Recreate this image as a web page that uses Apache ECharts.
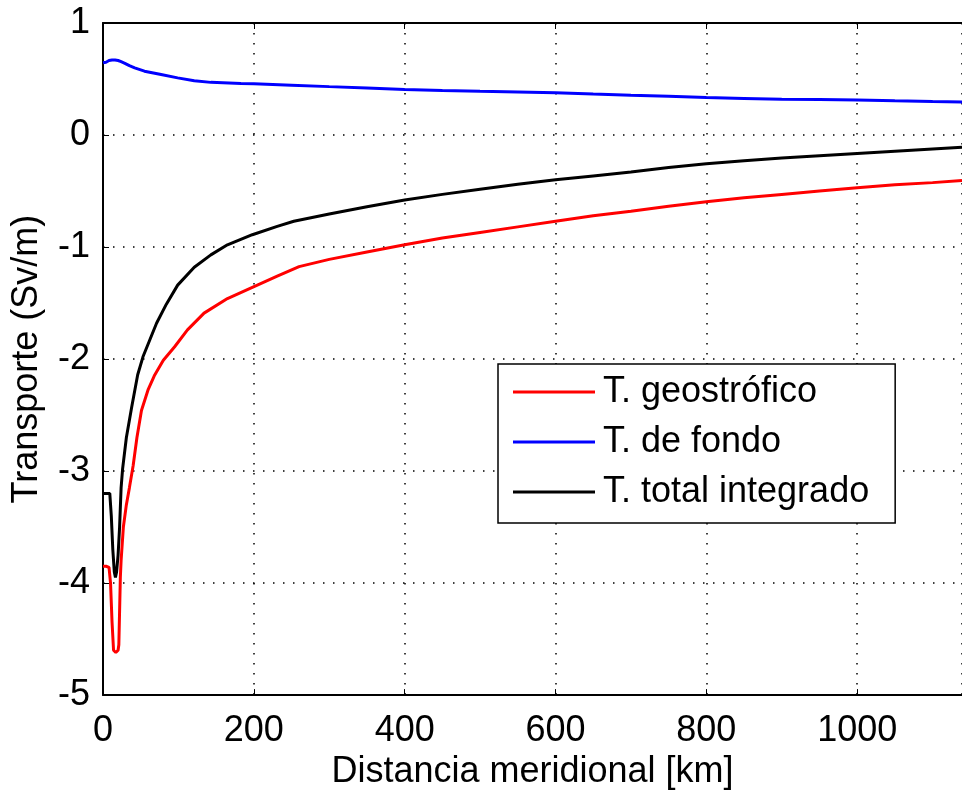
<!DOCTYPE html>
<html>
<head>
<meta charset="utf-8">
<script src="https://cdn.jsdelivr.net/npm/echarts@6/dist/echarts.min.js"></script>
<style>
html,body{margin:0;padding:0;background:#fff;}
#chart{width:962px;height:795px;}
</style>
</head>
<body>
<div id="chart"></div>
<script>
// ---- data ----
const seriesNames = ['T. geostrófico', 'T. de fondo', 'T. total integrado'];
const xTicks = [0, 200, 400, 600, 800, 1000];
const yTicks = [-5, -4, -3, -2, -1, 0, 1];

const distGeo = [0, 4, 8, 10, 12, 14, 17, 20, 21, 23, 24, 27, 31, 35, 40, 45, 51, 60, 68, 80, 95, 112, 134, 165, 198, 231, 260, 300, 350, 400, 450, 500, 550, 600, 650, 700, 750, 800, 850, 900, 950, 1000, 1050, 1100, 1139];
const geo = [-3.85, -3.85, -3.86, -4.0, -4.35, -4.6, -4.62, -4.6, -4.55, -3.95, -3.8, -3.5, -3.3, -3.15, -2.95, -2.7, -2.46, -2.27, -2.15, -2.01, -1.89, -1.74, -1.59, -1.46, -1.36, -1.26, -1.175, -1.11, -1.045, -0.98, -0.92, -0.87, -0.82, -0.77, -0.72, -0.68, -0.635, -0.595, -0.56, -0.53, -0.5, -0.47, -0.445, -0.425, -0.405];

const distFondo = [0, 4, 8, 12, 16, 20, 24, 29, 35, 42, 55, 77, 99, 121, 143, 183, 200, 250, 300, 350, 400, 450, 500, 550, 600, 650, 700, 750, 800, 850, 900, 950, 1000, 1050, 1100, 1139];
const fondo = [0.645, 0.65, 0.665, 0.67, 0.67, 0.665, 0.655, 0.64, 0.62, 0.6, 0.57, 0.54, 0.51, 0.485, 0.47, 0.46, 0.457, 0.445, 0.432, 0.42, 0.407, 0.398, 0.39, 0.384, 0.378, 0.366, 0.355, 0.345, 0.334, 0.327, 0.32, 0.316, 0.312, 0.305, 0.299, 0.295];

const distTotal = [0, 4, 9, 11, 13, 15, 16.5, 18, 20, 22, 24, 26, 31, 38, 46, 53, 62, 71, 84, 99, 121, 143, 165, 198, 231, 253, 300, 350, 400, 450, 500, 550, 600, 650, 700, 750, 800, 850, 900, 950, 1000, 1050, 1100, 1139];
const total = [-3.2, -3.2, -3.2, -3.4, -3.7, -3.9, -3.95, -3.9, -3.75, -3.5, -3.15, -2.98, -2.7, -2.43, -2.14, -1.98, -1.83, -1.68, -1.51, -1.34, -1.18, -1.07, -0.98, -0.89, -0.815, -0.77, -0.705, -0.64, -0.58, -0.53, -0.485, -0.44, -0.4, -0.365, -0.33, -0.29, -0.257, -0.23, -0.205, -0.185, -0.165, -0.145, -0.125, -0.11];

const xMin = 0, xMax = 1139, yMin = -5, yMax = 1;

function pairs(xs, ys) { return xs.map((x, i) => [x, ys[i]]); }

const FONT = 'Liberation Sans';
const FS = 36;
const gridDots = { color: '#000', width: 1.5, type: [1.5, 8.5] };

const chart = echarts.init(document.getElementById('chart'), null, { renderer: 'canvas' });
chart.setOption({
  animation: false,
  backgroundColor: '#fff',
  grid: { left: 103, right: -3, top: 23, bottom: 94, containLabel: false },
  xAxis: [{
    type: 'value', min: xMin, max: xMax, interval: 200,
    name: 'Distancia meridional [km]', nameLocation: 'middle', nameGap: 58,
    nameTextStyle: { fontFamily: FONT, fontSize: FS, color: '#000' },
    axisLine: { show: true, onZero: false, lineStyle: { color: '#000', width: 2 } },
    axisTick: { show: true, inside: true, length: 6, lineStyle: { color: '#000', width: 1 } },
    axisLabel: { fontFamily: FONT, fontSize: FS, color: '#000', margin: 18, showMaxLabel: false,
      formatter: v => (xTicks.indexOf(v) >= 0 ? String(v) : '') },
    splitLine: { show: true, lineStyle: gridDots }
  }, {
    type: 'value', min: xMin, max: xMax, interval: 200, position: 'top',
    axisLine: { show: true, onZero: false, lineStyle: { color: '#000', width: 2 } },
    axisTick: { show: true, inside: true, length: 6, lineStyle: { color: '#000', width: 1 } },
    axisLabel: { show: false }, splitLine: { show: false }
  }],
  yAxis: [{
    type: 'value', min: yMin, max: yMax, interval: 1,
    name: 'Transporte (Sv/m)', nameLocation: 'middle', nameGap: 58, nameRotate: 90,
    nameTextStyle: { fontFamily: FONT, fontSize: FS, color: '#000' },
    axisLine: { show: true, onZero: false, lineStyle: { color: '#000', width: 2 } },
    axisTick: { show: true, inside: true, length: 6, lineStyle: { color: '#000', width: 1 } },
    axisLabel: { fontFamily: FONT, fontSize: FS, color: '#000', margin: 13,
      formatter: v => (yTicks.indexOf(v) >= 0 ? String(v) : '') },
    splitLine: { show: true, lineStyle: gridDots }
  }],
  legend: {
    orient: 'vertical', left: 498, top: 364,
    padding: [10, 26, 13, 15], itemGap: 14, itemWidth: 82, itemHeight: 3,
    backgroundColor: '#fff', borderColor: '#000', borderWidth: 1.5,
    icon: 'rect',
    textStyle: { fontFamily: FONT, fontSize: FS, color: '#000', padding: [0, 0, 0, 3], lineHeight: 36 },
    data: seriesNames
  },
  series: [
    { name: seriesNames[0], type: 'line', data: pairs(distGeo, geo), showSymbol: false, symbol: 'none',
      lineStyle: { color: '#ff0000', width: 3 }, itemStyle: { color: '#ff0000' }, z: 3 },
    { name: seriesNames[1], type: 'line', data: pairs(distFondo, fondo), showSymbol: false, symbol: 'none',
      lineStyle: { color: '#0000ff', width: 3 }, itemStyle: { color: '#0000ff' }, z: 3 },
    { name: seriesNames[2], type: 'line', data: pairs(distTotal, total), showSymbol: false, symbol: 'none',
      lineStyle: { color: '#000000', width: 3 }, itemStyle: { color: '#000000' }, z: 4 }
  ]
});
</script>
</body>
</html>
